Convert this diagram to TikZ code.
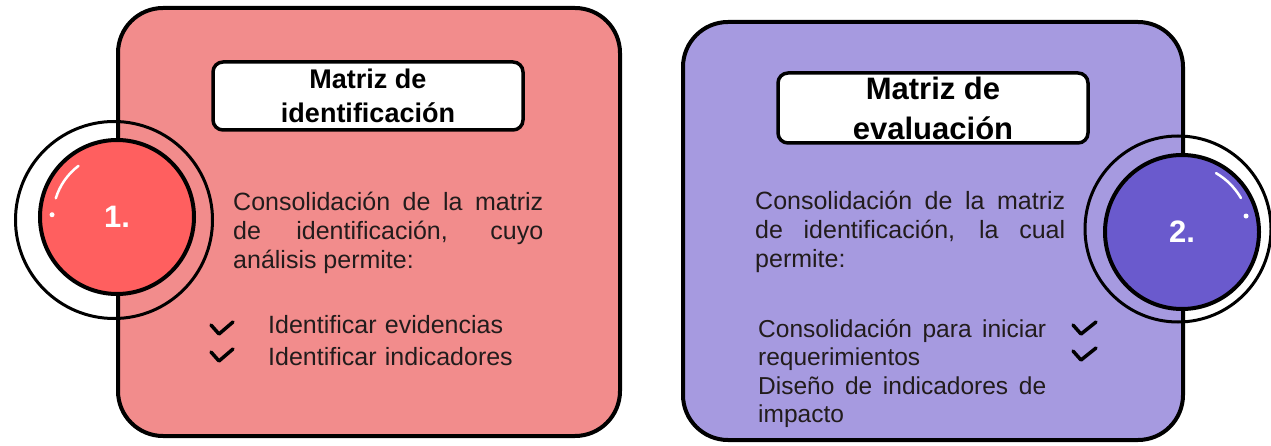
\documentclass[tikz,border=0pt]{standalone}
\usepackage{fontspec}
\setmainfont{Liberation Sans}
\usepackage{tikz}
\usetikzlibrary{positioning}
\definecolor{cardpink}{HTML}{F28C8C}
\definecolor{dotred}{HTML}{FF5F5F}
\definecolor{cardlilac}{HTML}{A69AE0}
\definecolor{dotviolet}{HTML}{6A5ACD}
\definecolor{bodyink}{HTML}{221C1C}

\begin{document}
\begin{tikzpicture}[x=1pt, y=-1pt,
    card/.style={draw=black, line width=4pt, rounded corners=45pt},
    titlebox/.style={draw=black, fill=white, line width=3.5pt, rounded corners=10pt, minimum width=310, inner sep=0pt, align=center},
    ring/.style={draw=black, line width=3pt, circle, minimum size=#1, inner sep=0pt},
    dot/.style={draw=black, line width=4pt, circle, minimum size=154, inner sep=0pt, text=white, font=\bfseries\fontsize{31}{31}\selectfont},
    gleam/.style={draw=white, line width=2.5pt, line cap=round},
    body/.style={anchor=base west, inner sep=0pt, text width=310pt, align=justify, text=bodyink,
        font=\fontsize{25}{29}\selectfont, execute at begin node={\tolerance=10000\hyphenpenalty=10000}},
    tick/.style={draw=black, line width=3.5pt, line cap=round, line join=round}]
    \useasboundingbox (0,0) rectangle (1271,446);

    % Left card - pink
    \draw[card, fill=cardpink] (118,8) rectangle (620,436);
    \node[ring=197] (ring1) at (114,220) {};
    \node[dot, fill=dotred] (dot1) at (117,217) {1.};
    \draw[gleam] (dot1.center) ++(127:64pt) arc[start angle=127, end angle=163, radius=64pt];
    \fill[white] (dot1.center) ++(178:65pt) circle[radius=2.5pt];

    \node[titlebox, minimum height=68, font=\bfseries\fontsize{27}{34}\selectfont] (title1) at (368,96) {Matriz de\\identificación};
    \node[body] (text1) at (233,211) {Consolidación de la matriz\linebreak de identificación, cuyo\linebreak análisis permite:};
    \node[body, text width=260pt, align=left, font=\fontsize{25}{32}\selectfont] (items1) at (268,333) {Identificar evidencias\\Identificar indicadores};
    \draw[tick] (211,325) -- (219,334) -- (233,322);
    \draw[tick] (211,352) -- (219,361) -- (233,349);

    % Right card - lilac
    \draw[card, fill=cardlilac] (683,22) rectangle (1183,440);
    \node[ring=186] (ring2) at (1178,229) {};
    \node[dot, fill=dotviolet] (dot2) at (1182,232) {2.};
    \draw[gleam] (dot2.center) ++(60:68pt) arc[start angle=60, end angle=30, radius=68pt];
    \fill[white] (dot2.center) ++(14:66pt) circle[radius=2.5pt];

    \node[titlebox, minimum height=70, font=\bfseries\fontsize{31}{40}\selectfont] (title2) at (933,108) {Matriz de\\evaluación};
    \node[body] (text2) at (755,210) {Consolidación de la matriz\linebreak de identificación, la cual\linebreak permite:};
    \node[body, text width=288pt, font=\fontsize{24.5}{28.5}\selectfont] (items2) at (758,337) {Consolidación para iniciar requerimientos\\Diseño de indicadores de impacto};
    \draw[tick] (1073,325) -- (1081,334) -- (1096,322);
    \draw[tick] (1073,351) -- (1081,360) -- (1096,348);
\end{tikzpicture}
\end{document}
